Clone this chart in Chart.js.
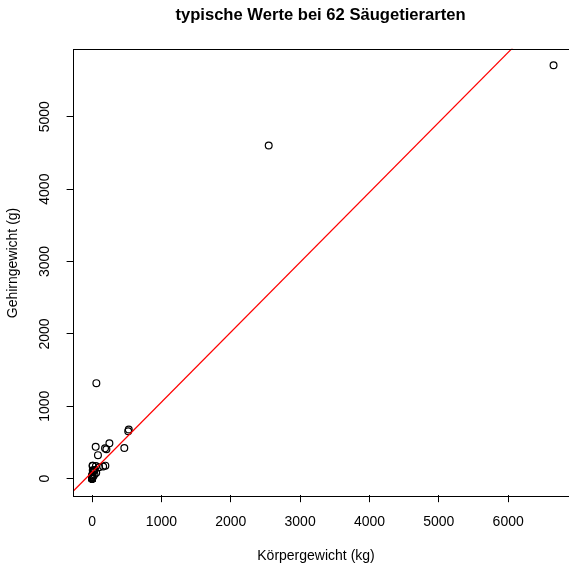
<!DOCTYPE html>
<html>
<head>
<meta charset="utf-8">
<script src="https://cdn.jsdelivr.net/npm/chart.js@4"></script>
<style>
  html, body { margin: 0; padding: 0; background: #fff; overflow: hidden; }
  canvas { display: block; }
</style>
</head>
<body>
<canvas id="c" width="600" height="566"></canvas>
<script>
// Säugetiere: Körpergewicht (kg) und Gehirngewicht (g)
const species = ['Arctic fox','Owl monkey','Mountain beaver','Cow','Grey wolf','Goat','Roe deer','Guinea pig','Verbet','Chinchilla',
  'Ground squirrel','Arctic ground squirrel','African giant pouched rat','Lesser short-tailed shrew','Star-nosed mole',
  'Nine-banded armadillo','Tree hyrax','N.A. opossum','Asian elephant','Big brown bat','Donkey','Horse','European hedgehog',
  'Patas monkey','Cat','Galago','Genet','Giraffe','Gorilla','Grey seal','Rock hyrax-a','Human','African elephant',
  'Water opossum','Rhesus monkey','Kangaroo','Yellow-bellied marmot','Golden hamster','Mouse','Little brown bat',
  'Slow loris','Okapi','Rabbit','Sheep','Jaguar','Chimpanzee','Baboon','Desert hedgehog','Giant armadillo','Rock hyrax-b',
  'Raccoon','Rat','E. American mole','Mole rat','Musk shrew','Pig','Echidna','Brazilian tapir','Tenrec','Phalanger',
  'Tree shrew','Red fox'];
const body = [3.385,0.48,1.35,465,36.33,27.66,14.83,1.04,4.19,0.425,0.101,0.92,1,0.005,0.06,3.5,2,1.7,2547,0.023,
  187.1,521,0.785,10,3.3,0.2,1.41,529,207,85,0.75,62,6654,3.5,6.8,35,4.05,0.12,0.023,0.01,1.4,250,2.5,55.5,100,
  52.16,10.55,0.55,60,3.6,4.288,0.28,0.075,0.122,0.048,192,3,160,0.9,1.62,0.104,4.235];
const brain = [44.5,15.5,8.1,423,119.5,115,98.2,5.5,58,6.4,4,5.7,6.6,0.14,1,10.8,12.3,6.3,4603,0.3,419,655,3.5,115,
  25.6,5,17.5,680,406,325,12.3,1320,5712,3.9,179,56,17,1,0.4,0.25,12.5,490,12.1,175,157,440,179.5,2.4,81,21,39.2,
  1.9,1.2,3,0.33,180,25,169,2.6,11.4,2.5,50.4];
const xTicks = [0, 1000, 2000, 3000, 4000, 5000, 6000];
const yTicks = [0, 1000, 2000, 3000, 4000, 5000];
const title = 'typische Werte bei 62 Säugetierarten';
const xTitle = 'Körpergewicht (kg)';
const yTitle = 'Gehirngewicht (g)';

// Achsenbereich wie in R (4 % Zugabe)
const pad = (a) => { const lo = Math.min(...a), hi = Math.max(...a), d = (hi - lo) * 0.04; return [lo - d, hi + d]; };
const [xMin, xMax] = pad(body);
const [yMin, yMax] = pad(brain);

// lineare Regression brain ~ body
const n = body.length;
const mx = body.reduce((s, v) => s + v, 0) / n;
const my = brain.reduce((s, v) => s + v, 0) / n;
let sxy = 0, sxx = 0;
for (let i = 0; i < n; i++) { sxy += (body[i] - mx) * (brain[i] - my); sxx += (body[i] - mx) ** 2; }
const slope = sxy / sxx;
const intercept = my - slope * mx;

const FONT = '"Liberation Sans", Arial, Helvetica, sans-serif';

const textPlugin = {
  id: 'rtext',
  afterDraw(chart) {
    const ctx = chart.ctx, a = chart.chartArea;
    const xs = chart.scales.x, ys = chart.scales.y;
    ctx.save();
    ctx.strokeStyle = '#000';
    ctx.lineWidth = 1;
    ctx.strokeRect(Math.round(a.left) - 0.5, Math.round(a.top) + 0.5, Math.round(a.right - a.left), Math.round(a.bottom - a.top));
    ctx.fillStyle = '#000';
    ctx.textAlign = 'center';
    ctx.textBaseline = 'middle';
    ctx.font = '14px ' + FONT;
    xTicks.forEach(v => ctx.fillText(String(v), xs.getPixelForValue(v), 522));
    yTicks.forEach(v => {
      ctx.save();
      ctx.translate(45, ys.getPixelForValue(v));
      ctx.rotate(-Math.PI / 2);
      ctx.fillText(String(v), 0, 0);
      ctx.restore();
    });
    ctx.fillText(xTitle, 316, 556);
    ctx.save();
    ctx.translate(13.5, 263);
    ctx.rotate(-Math.PI / 2);
    ctx.fillText(yTitle, 0, 0);
    ctx.restore();
    ctx.font = 'bold 16.6px ' + FONT;
    ctx.fillText(title, 320.5, 15);
    ctx.restore();
  }
};

new Chart(document.getElementById('c'), {
  type: 'scatter',
  data: {
    datasets: [
      {
        type: 'line',
        label: 'Regression',
        data: [{ x: xMin, y: intercept + slope * xMin }, { x: xMax, y: intercept + slope * xMax }],
        borderColor: '#ff0000',
        borderWidth: 1.2,
        pointRadius: 0,
        fill: false,
        order: 0
      },
      {
        label: 'Säugetiere',
        data: body.map((b, i) => ({ x: b, y: brain[i] })),
        pointRadius: 3.4,
        pointBorderWidth: 1.2,
        pointBorderColor: '#000',
        pointBackgroundColor: 'rgba(0,0,0,0)',
        order: 1
      }
    ]
  },
  options: {
    responsive: false,
    devicePixelRatio: 1,
    animation: false,
    layout: { padding: { left: 0, top: 48.7, right: 28, bottom: 0 } },
    plugins: { legend: { display: false }, tooltip: { enabled: false } },
    scales: {
      x: {
        type: 'linear', min: xMin, max: xMax,
        afterFit: s => { s.height = 566 - 495.2; },
        afterBuildTicks: s => { s.ticks = xTicks.map(v => ({ value: v })); },
        ticks: { display: false },
        grid: { drawOnChartArea: false, drawTicks: true, tickLength: 7, color: '#000', lineWidth: 1 },
        border: { display: false }
      },
      y: {
        type: 'linear', min: yMin, max: yMax,
        afterFit: s => { s.width = 73.6; },
        afterBuildTicks: s => { s.ticks = yTicks.map(v => ({ value: v })); },
        ticks: { display: false },
        grid: { drawOnChartArea: false, drawTicks: true, tickLength: 7, color: '#000', lineWidth: 1 },
        border: { display: false }
      }
    }
  },
  plugins: [textPlugin]
});
</script>
</body>
</html>
